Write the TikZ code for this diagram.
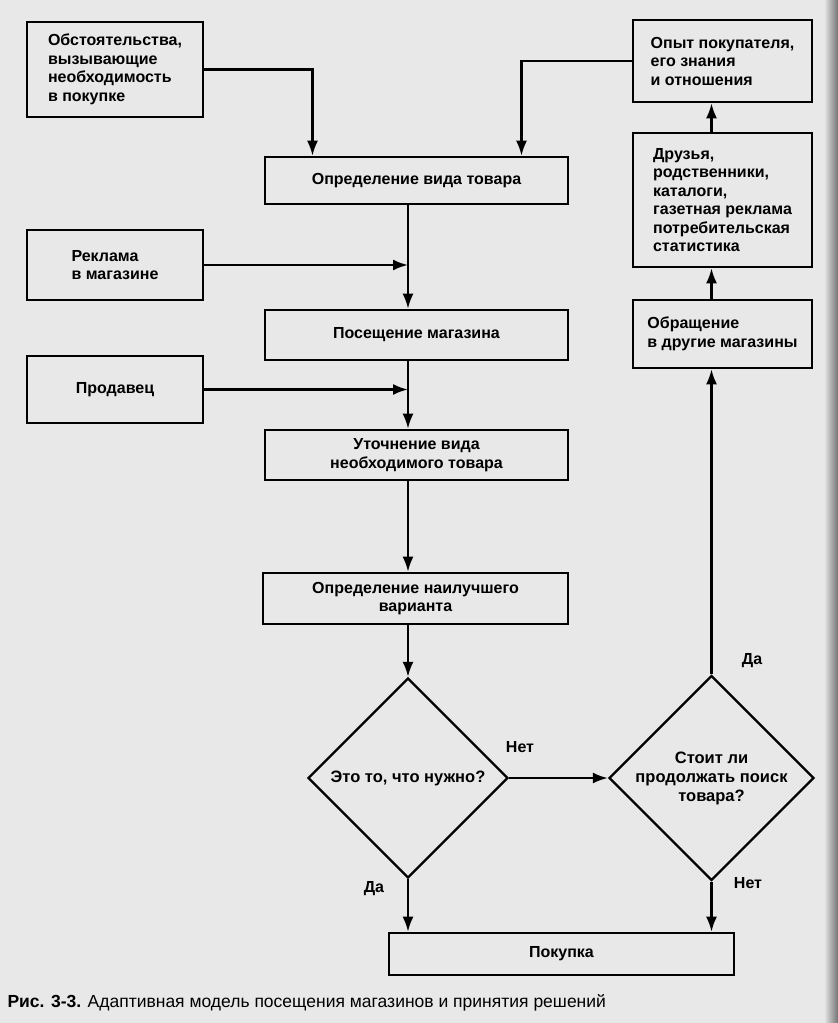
\documentclass[tikz,border=0pt]{standalone}
\usepackage{fontspec}
\setmainfont{Liberation Sans}
\usetikzlibrary{arrows.meta,shapes.geometric}

\tikzset{
  box/.style={draw, line width=2.6pt, align=left, inner sep=0pt,
    font=\bfseries\fontsize{16}{18.5}\selectfont},
  cbox/.style={box, align=center},
  choice/.style={draw, diamond, aspect=1, line width=2.4pt, minimum size=200pt,
    inner sep=0pt, align=center, font=\bfseries\fontsize{16.5}{19}\selectfont},
  flow/.style={-{Latex[length=15pt,width=11pt]}, line width=2.2pt},
  tag/.style={font=\bfseries\fontsize{16}{19}\selectfont}
}

\begin{document}
\begin{tikzpicture}[x=1pt,y=-1pt]
% page
\fill[black!9] (0,0) rectangle (838,1023);
\fill[left color=black!9, right color=black!55] (824,0) rectangle (838,1023);
\useasboundingbox (0,0) rectangle (838,1023);
% sources on the left
\node[box, minimum width=176pt, minimum height=95pt] (circ) at (115,69.5)
  {Обстоятельства,\\вызывающие\\необходимость\\в покупке};
\node[box, minimum width=176pt, minimum height=70pt] (promo) at (115,265)
  {Реклама\\в магазине};
\node[box, minimum width=176pt, minimum height=67pt] (seller) at (115,389.5)
  {Продавец};
% sources on the right
\node[box, minimum width=179pt, minimum height=82pt] (expr) at (722.5,61)
  {Опыт покупателя,\\его знания\\и отношения};
\node[box, minimum width=179pt, minimum height=134pt] (friends) at (722.5,200)
  {Друзья,\\родственники,\\каталоги,\\газетная реклама\\потребительская\\статистика};
\node[box, minimum width=179pt, minimum height=68pt] (other) at (722.5,334)
  {Обращение\\в другие магазины};
% main column
\node[cbox, minimum width=303pt, minimum height=47pt] (kind) at (416.5,180.5)
  {Определение вида товара};
\node[cbox, minimum width=303pt, minimum height=50pt] (visit) at (416.5,335)
  {Посещение магазина};
\node[cbox, minimum width=303pt, minimum height=50pt] (refine) at (416.5,455)
  {Уточнение вида\\необходимого товара};
\node[cbox, minimum width=305pt, minimum height=51pt] (best) at (415.5,598.5)
  {Определение наилучшего\\варианта};
% decisions
\node[choice] (fit) at (408,778) {Это то, что нужно?};
\node[choice] (goon) at (711.5,778) {Стоит ли\\продолжать поиск\\товара?};
\node[cbox, minimum width=345pt, minimum height=42pt] (buy) at (561.5,954)
  {Покупка};
% connectors
\draw[flow] (circ.east) -| ([xshift=-104pt]kind.north);
\draw[flow] (expr.west) -| ([xshift=105pt]kind.north);
\draw[flow] (kind.south -| fit.north) -- (visit.north -| fit.north);
\draw[flow] (promo.east) -- (promo.east -| fit.north);
\draw[flow] (visit.south -| fit.north) -- (refine.north -| fit.north);
\draw[flow] (seller.east) -- (seller.east -| fit.north);
\draw[flow] (refine.south -| fit.north) -- (best.north -| fit.north);
\draw[flow] (best.south -| fit.north) -- (fit.north);
\draw[flow] (fit.east) -- (goon.west);
\draw[flow] (fit.south) -- (fit.south |- buy.north);
\draw[flow] (goon.south) -- (goon.south |- buy.north);
\draw[flow] (goon.north) -- (goon.north |- other.south);
\draw[flow] (other.north -| goon.north) -- (friends.south -| goon.north);
\draw[flow] (friends.north -| goon.north) -- (expr.south -| goon.north);
% answers
\node[tag] (no1) at (520,747) {Нет};
\node[tag] (yes1) at (374,889) {Да};
\node[tag] (no2) at (748,883) {Нет};
\node[tag] (yes2) at (752,661) {Да};
% caption
\node[anchor=west, font=\fontsize{17.5}{20}\selectfont] (cap) at (4,1003)
  {\textbf{Рис. 3-3.} Адаптивная модель посещения магазинов и принятия решений};
\end{tikzpicture}
\end{document}
